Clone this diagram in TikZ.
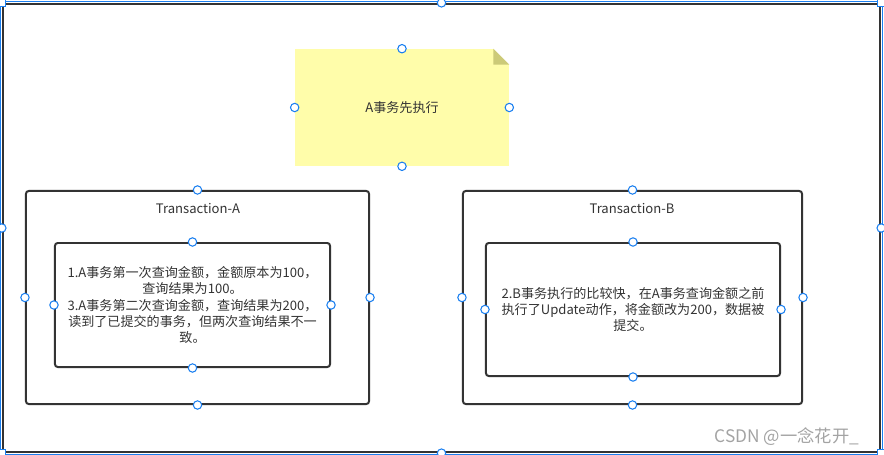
\documentclass[tikz,border=0pt]{standalone}
\usepackage{fontspec}
\setmainfont{Noto Sans CJK SC}
\usepackage{tikz}
\usetikzlibrary{calc}
\usepackage{xcolor}
\definecolor{txt}{HTML}{333333}
\definecolor{notefill}{HTML}{FFFDAA}
\definecolor{notefold}{HTML}{CCCA78}
\definecolor{selblue}{HTML}{1A7FF0}
\definecolor{wmark}{HTML}{A3A3A3}

\begin{document}
\begin{tikzpicture}[
    x=0.025cm, y=-0.025cm,
    box/.style={draw=txt, line width=1.4pt, rounded corners=2pt, inner sep=0pt},
    inbox/.style={box, align=center, text=txt, font=\fontsize{9.3pt}{11.4pt}\selectfont},
    note/.style={fill=notefill, inner sep=0pt, minimum width=5.35cm, minimum height=2.925cm, text=txt, font=\fontsize{9.3pt}{11.4pt}\selectfont},
    title/.style={text=txt, font=\fontsize{9.3pt}{11.4pt}\selectfont},
    handle/.style={circle, draw=selblue, fill=white, line width=0.75pt, inner sep=0pt, minimum size=0.21cm},
    corner/.style={rectangle, draw=selblue, fill=white, line width=0.75pt, inner sep=0pt, minimum size=0.19cm}
]
\useasboundingbox (0,0) rectangle (884,455);

\node[draw=txt, line width=1.5pt, inner sep=0pt, minimum width=21.925cm, minimum height=11.2cm] (frame) at (441.5,228) {};
\draw[selblue, line width=0.7pt] ([shift={(-1.5,1.5)}]frame.south west) rectangle ([shift={(1.5,-1.5)}]frame.north east);

\node[note] (note) at (402,107.5) {A事务先执行};
\fill[white] ($(note.north east)+(-16,0)$) -- (note.north east) -- ($(note.north east)+(0,16)$) -- cycle;
\fill[notefold] ($(note.north east)+(-16,0)$) -- ($(note.north east)+(0,16)$) -- ($(note.north east)+(-16,16)$) -- cycle;

\node[box, minimum width=8.575cm, minimum height=5.325cm] (ta) at (197.5,297.5) {};
\node[title] (tatitle) at (198,209) {Transaction-A};
\node[inbox, minimum width=6.875cm, minimum height=3.1cm] (tai) at (192.5,305)
    {1.A事务第一次查询金额，金额原本为100，\\查询结果为100。\\3.A事务第二次查询金额，查询结果为200，\\读到了已提交的事务，但两次查询结果不一\\致。};

\node[box, minimum width=8.475cm, minimum height=5.325cm] (tb) at (632.5,297.5) {};
\node[title] (tbtitle) at (632,209) {Transaction-B};
\node[inbox, minimum width=7.35cm, minimum height=3.325cm] (tbi) at (633,309.5)
    {2.B事务执行的比较快，在A事务查询金额之前\\执行了Update动作，将金额改为200，数据被\\提交。};

\foreach \n in {frame,note,ta,tai,tb,tbi}
  \foreach \a in {north,south,east,west}
    \node[handle] at (\n.\a) {};
\foreach \a in {north west,north east,south west,south east}
  \node[corner] at (frame.\a) {};

\node[text=wmark, font=\fontsize{12.3pt}{14pt}\selectfont] (wm) at (787,437) {CSDN @一念花开\_};
\end{tikzpicture}
\end{document}
